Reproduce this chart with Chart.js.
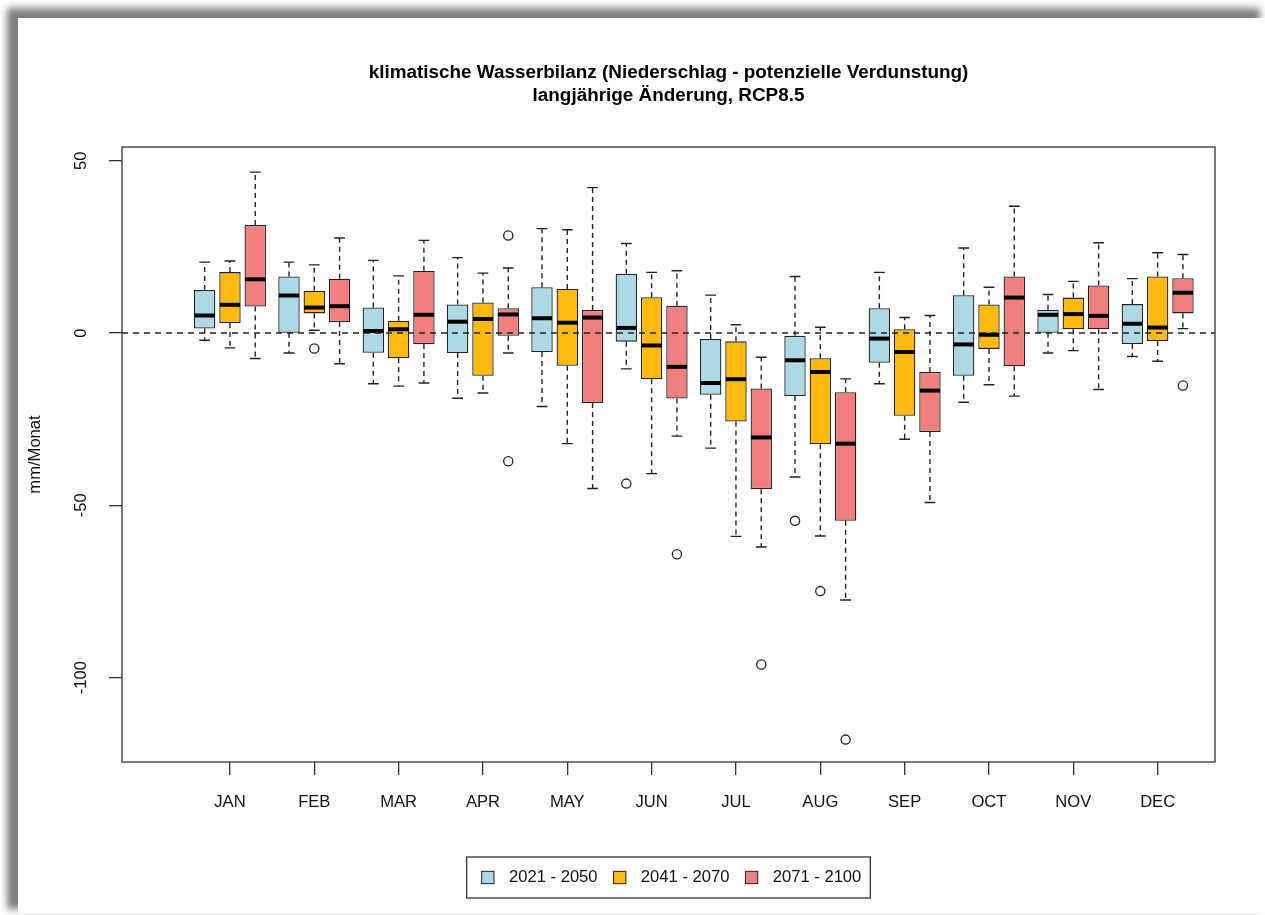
<!DOCTYPE html>
<html>
<head>
<meta charset="utf-8">
<script src="https://cdn.jsdelivr.net/npm/chart.js@4/dist/chart.umd.min.js"></script>
<style>
  html, body { margin: 0; padding: 0; background: #fff; overflow: hidden; }
  .panel { position: absolute; left: 18px; top: 18px; width: 1247px; height: 895px; background: #fff;
           box-shadow: -8px -7px 7px 3px rgba(0,0,0,0.5); }
  #chart { position: absolute; left: 0; top: 0; }
</style>
</head>
<body>
<div class="panel"></div>
<canvas id="chart" width="1265" height="915"></canvas>
<script>
const months = ['JAN', 'FEB', 'MAR', 'APR', 'MAY', 'JUN', 'JUL', 'AUG', 'SEP', 'OCT', 'NOV', 'DEC'];
const periods = ['2021 - 2050', '2041 - 2070', '2071 - 2100'];
const yTicks = [-100, -50, 0, 50];
const titleLines = ['klimatische Wasserbilanz (Niederschlag - potenzielle Verdunstung)', 'langjährige Änderung, RCP8.5'];

// 2021 - 2050
const p1Low  = [-2.1, -5.8, -14.7, -18.9, -21.3, -10.4, -33.4, -41.8, -14.7, -20.1, -5.8, -6.8];
const p1Q1   = [1.3, 0.1, -5.7, -5.8, -5.5, -2.5, -17.9, -18.3, -8.6, -12.4, 0.1, -3.2];
const p1Med  = [5.1, 10.9, 0.6, 3.3, 4.3, 1.5, -14.5, -7.9, -1.6, -3.3, 5.3, 2.7];
const p1Q3   = [12.5, 16.4, 7.4, 8.3, 13.3, 17.2, -1.7, -0.8, 7.2, 11.0, 6.8, 8.4];
const p1High = [20.6, 20.6, 21.1, 21.9, 30.3, 26.0, 11.0, 16.4, 17.6, 24.7, 11.2, 15.8];
const p1Out  = [[], [], [], [], [], [-43.7], [], [-54.5], [], [], [], []];

// 2041 - 2070
const p2Low  = [-4.3, 0.8, -15.4, -17.4, -32.1, -40.8, -59.0, -58.9, -30.8, -15.0, -5.1, -8.2];
const p2Q1   = [2.9, 5.7, -7.3, -12.4, -9.5, -13.4, -25.7, -32.3, -24.0, -4.6, 1.1, -2.3];
const p2Med  = [8.2, 7.4, 1.1, 4.1, 3.0, -3.6, -13.4, -11.3, -5.5, -0.5, 5.5, 1.6];
const p2Q3   = [17.7, 12.3, 3.6, 8.9, 12.8, 10.4, -2.4, -7.3, 1.1, 8.3, 10.3, 16.4];
const p2High = [20.9, 19.8, 16.6, 17.4, 30.0, 17.6, 2.4, 1.7, 4.5, 13.3, 15.0, 23.3];
const p2Out  = [[], [-4.5], [], [], [], [], [], [-74.9], [], [], [], []];

// 2071 - 2100
const p3Low  = [-7.4, -8.9, -14.5, -5.8, -45.1, -29.9, -62.1, -77.5, -49.2, -18.3, -16.4, 1.3];
const p3Q1   = [7.7, 3.2, -3.2, -0.8, -20.3, -19.0, -45.3, -54.5, -28.7, -9.6, 1.1, 5.7];
const p3Med  = [15.6, 7.8, 5.3, 5.4, 4.5, -9.8, -30.3, -32.1, -16.7, 10.3, 5.0, 11.7];
const p3Q3   = [31.4, 15.8, 18.1, 7.2, 6.7, 7.9, -16.1, -17.2, -11.3, 16.4, 13.8, 15.9];
const p3High = [46.7, 27.6, 26.9, 18.9, 42.2, 18.1, -7.0, -13.3, 5.1, 36.8, 26.2, 22.8];
const p3Out  = [[], [], [], [28.3, -37.2], [], [-64.2], [-96.2], [-118.0], [], [], [], [-15.2]];

const boxColors = ['#ADD8E6', '#FFB90F', '#F08080'];
const FONT = "'Liberation Sans', Arial, sans-serif";

const stats = [
  { low: p1Low, q1: p1Q1, med: p1Med, q3: p1Q3, high: p1High, out: p1Out },
  { low: p2Low, q1: p2Q1, med: p2Med, q3: p2Q3, high: p2High, out: p2Out },
  { low: p3Low, q1: p3Q1, med: p3Med, q3: p3Q3, high: p3High, out: p3Out }
];

const datasets = stats.map((s, d) => ({
  label: periods[d],
  data: months.map((m, i) => ({ x: i + 1, y: [s.q1[i], s.q3[i]] })),
  backgroundColor: boxColors[d],
  borderColor: '#222',
  borderWidth: 1.3,
  borderSkipped: false,
  categoryPercentage: 0.9,
  barPercentage: 0.846
}));

// whiskers, staples, medians, outliers, zero line, frame and legend
const boxParts = {
  id: 'boxParts',
  afterDatasetsDraw(chart) {
    const ctx = chart.ctx;
    const y = chart.scales.y;
    const area = chart.chartArea;
    ctx.save();
    ctx.strokeStyle = '#222';
    stats.forEach((s, d) => {
      const meta = chart.getDatasetMeta(d);
      meta.data.forEach((bar, i) => {
        const { x, width } = bar.getProps(['x', 'width'], true);
        const yLow = y.getPixelForValue(s.low[i]);
        const yHigh = y.getPixelForValue(s.high[i]);
        const yQ1 = y.getPixelForValue(s.q1[i]);
        const yQ3 = y.getPixelForValue(s.q3[i]);
        const yMed = y.getPixelForValue(s.med[i]);
        ctx.lineWidth = 1.4;
        ctx.setLineDash([5, 4]);
        ctx.beginPath();
        ctx.moveTo(x, yQ3); ctx.lineTo(x, yHigh);
        ctx.moveTo(x, yQ1); ctx.lineTo(x, yLow);
        ctx.stroke();
        ctx.setLineDash([]);
        ctx.beginPath();
        ctx.moveTo(x - width / 4, yHigh); ctx.lineTo(x + width / 4, yHigh);
        ctx.moveTo(x - width / 4, yLow); ctx.lineTo(x + width / 4, yLow);
        ctx.stroke();
        ctx.lineWidth = 4;
        ctx.strokeStyle = '#000';
        ctx.beginPath();
        ctx.moveTo(x - width / 2 + 0.6, yMed); ctx.lineTo(x + width / 2 - 0.6, yMed);
        ctx.stroke();
        ctx.strokeStyle = '#222';
        ctx.lineWidth = 1.3;
        s.out[i].forEach(v => {
          ctx.beginPath();
          ctx.arc(x, y.getPixelForValue(v), 4.6, 0, Math.PI * 2);
          ctx.stroke();
        });
      });
    });
    // zero line
    const y0 = y.getPixelForValue(0);
    ctx.lineWidth = 1.6;
    ctx.setLineDash([6, 5]);
    ctx.beginPath();
    ctx.moveTo(area.left, y0); ctx.lineTo(area.right, y0);
    ctx.stroke();
    ctx.setLineDash([]);
    // frame
    ctx.lineWidth = 1.3;
    ctx.strokeStyle = '#333';
    ctx.strokeRect(area.left, area.top, area.right - area.left, area.bottom - area.top);
    ctx.restore();
  },
  afterDraw(chart) {
    const ctx = chart.ctx;
    const area = chart.chartArea;
    ctx.save();
    ctx.font = '16.6px ' + FONT;
    const sq = 12.3, gap = 15, itemGap = 16, padL = 15, padR = 9;
    const widths = chart.data.datasets.map(ds => ctx.measureText(ds.label).width);
    let total = padL + padR + itemGap * (widths.length - 1);
    widths.forEach(w => { total += sq + gap + w; });
    const left = (area.left + area.right) / 2 - total / 2;
    const top = 857, h = 41, cy = top + h / 2;
    ctx.strokeStyle = '#333';
    ctx.lineWidth = 1.3;
    ctx.strokeRect(left, top, total, h);
    let x = left + padL;
    ctx.textBaseline = 'middle';
    ctx.textAlign = 'left';
    chart.data.datasets.forEach((ds, d) => {
      ctx.fillStyle = ds.backgroundColor;
      ctx.fillRect(x, cy - sq / 2, sq, sq);
      ctx.lineWidth = 1;
      ctx.strokeStyle = '#222';
      ctx.strokeRect(x, cy - sq / 2, sq, sq);
      ctx.fillStyle = '#111';
      ctx.fillText(ds.label, x + sq + gap, cy);
      x += sq + gap + widths[d] + itemGap;
    });
    ctx.restore();
  }
};

new Chart(document.getElementById('chart').getContext('2d'), {
  type: 'bar',
  data: { datasets: datasets },
  options: {
    responsive: false,
    animation: false,
    layout: { padding: { left: 22, right: 50, top: 0, bottom: 93 } },
    scales: {
      x: {
        type: 'linear',
        min: -0.28,
        max: 12.68,
        offset: false,
        afterFit: scale => { scale.height = 60; },
        afterBuildTicks: scale => { scale.ticks = months.map((m, i) => ({ value: i + 1 })); },
        grid: { offset: false, drawOnChartArea: false, drawTicks: true, tickLength: 13, color: '#333', lineWidth: 1.3 },
        border: { display: false },
        ticks: {
          padding: 17,
          maxRotation: 0,
          color: '#111',
          font: { family: FONT, size: 16.6 },
          callback: v => months[v - 1]
        }
      },
      y: {
        type: 'linear',
        min: -124.5,
        max: 54,
        afterFit: scale => { scale.width = 100; },
        afterBuildTicks: scale => { scale.ticks = yTicks.map(v => ({ value: v })); },
        grid: { drawOnChartArea: false, drawTicks: true, tickLength: 13, color: '#333', lineWidth: 1.3 },
        border: { display: false },
        ticks: {
          padding: 11,
          minRotation: 90,
          maxRotation: 90,
          crossAlign: 'center',
          color: '#111',
          font: { family: FONT, size: 16.6 },
          callback: v => String(v)
        },
        title: {
          display: true,
          text: 'mm/Monat',
          color: '#111',
          font: { family: FONT, size: 16.6 },
          padding: { top: 3.5, bottom: 4 }
        }
      }
    },
    plugins: {
      legend: { display: false },
      tooltip: { enabled: false },
      title: {
        display: true,
        fullSize: false,
        text: titleLines,
        color: '#000',
        font: { family: FONT, size: 18.9, weight: 'bold', lineHeight: 1.22 },
        padding: { top: 61.5, bottom: 39.4 }
      }
    }
  },
  plugins: [boxParts]
});
</script>
</body>
</html>
